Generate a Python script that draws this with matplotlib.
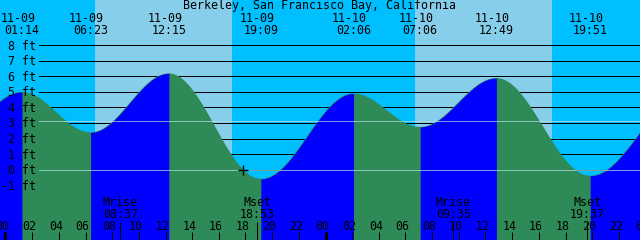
import matplotlib
matplotlib.use('Agg')
import numpy as np
import matplotlib.pyplot as plt

plt.rcParams['font.family'] = 'DejaVu Sans Mono'
plt.rcParams['font.size'] = 8.4

title = "Berkeley, San Francisco Bay, California"

# tide extremes (first and last are just outside the window)
tide_times = ["11-08 17:30", "11-09 01:14", "11-09 06:23", "11-09 12:15",
              "11-09 19:09", "11-10 02:06", "11-10 07:06", "11-10 12:49",
              "11-10 19:51", "11-11 03:00"]
tide_levels = [-0.6, 5.0, 2.4, 6.2, -0.6, 4.9, 2.75, 5.9, -0.4, 4.8]

sun_rise = ["11-09 06:43", "11-10 06:44"]
sun_set = ["11-09 16:59", "11-10 16:58"]

moon_names = ["Mrise", "Mset", "Mrise", "Mset"]
moon_times = ["11-09 08:37", "11-09 18:53", "11-10 09:35", "11-10 19:37"]

now_time = "11-09 17:50"
msl_level = 3.16
level_ticks = list(range(-1, 9))

night_col = '#00bfff'
day_col = '#87ceeb'
rise_col = '#0000ff'
fall_col = '#2e8b57'
line_col = '#b0e0e6'


def hours(s):
    md, hm = s.split()
    day = int(md.split('-')[1])
    hh, mm = hm.split(':')
    return (day - 9) * 24 + int(hh) + int(mm) / 60.0


tt = np.array([hours(s) for s in tide_times])
hh = np.array(tide_levels)


def tide_at(t):
    i = np.clip(np.searchsorted(tt, t) - 1, 0, len(tt) - 2)
    t0, t1, h0, h1 = tt[i], tt[i + 1], hh[i], hh[i + 1]
    return (h0 + h1) / 2 + (h0 - h1) / 2 * np.cos(np.pi * (t - t0) / (t1 - t0))


def row(py):
    # pixel row from top -> axes fraction
    return 1 - py / 240.0


fig = plt.figure(figsize=(6.4, 2.4), dpi=100)
ax = fig.add_axes([0, 0, 1, 1])
ax.set_xlim(-0.4125, 47.5875)
ax.set_ylim(-4.548, 10.935)
ax.axis('off')
xt = ax.get_xaxis_transform()
yt = ax.get_yaxis_transform()

# sky
ax.axvspan(-2, 50, color=night_col, lw=0, zorder=0)
for r, s in zip(sun_rise, sun_set):
    ax.axvspan(hours(r), hours(s), color=day_col, lw=0, zorder=0)

# level lines behind water
for L in level_ticks:
    ax.axhline(L, xmin=39 / 640, xmax=1, color='black', lw=0.72, zorder=1)

# water
tfull = np.linspace(tt[0], tt[-1], 2000)
ax.fill_between(tfull, [tide_at(t) for t in tfull], -5, color=fall_col, lw=0, zorder=2)
for i in range(len(tt) - 1):
    if hh[i + 1] > hh[i]:
        ts = np.linspace(tt[i], tt[i + 1], 200)
        ax.fill_between(ts, [tide_at(t) for t in ts], -5, color=rise_col, lw=0, zorder=2)

# datum and mean sea level
ax.axhline(msl_level, xmin=39 / 640, xmax=1, color=line_col, lw=0.72, alpha=0.7, zorder=3)
ax.axhline(0, xmin=39 / 640, xmax=1, color=line_col, lw=0.72, alpha=0.7, zorder=3)

# title
ax.text(0.499, row(9), title, transform=ax.transAxes, ha='center', va='baseline', zorder=6)

# extreme labels at top
for s in tide_times[1:-1]:
    t = hours(s)
    d, tm = s.split()
    ax.text(t - 0.3, row(22), d, transform=xt, ha='center', va='baseline', zorder=6)
    ax.text(t, row(33.5), tm, transform=xt, ha='center', va='baseline', zorder=6)

# level labels
for L in level_ticks:
    ax.text(36 / 640, L - 4.5 / 15.5, "%d ft" % L, transform=yt,
            ha='right', va='baseline', zorder=6)

# hour ticks
for h in range(0, 50, 2):
    ax.text(h - 0.22, row(230.5), "%02d" % (h % 24), transform=xt,
            ha='center', va='baseline', zorder=6)
ax.vlines([h for h in range(0, 48, 2) if h % 24], 0, 8 / 240, transform=xt,
          color='black', lw=0.72, zorder=6)
ax.vlines([0, 24], 0, 8.5 / 240, transform=xt, color='black', lw=2.16, zorder=6)

# moon
for name, s in zip(moon_names, moon_times):
    t = hours(s)
    ax.text(t, row(206.5), name, transform=xt, ha='center', va='baseline', zorder=6)
    ax.text(t, row(218), s.split()[1], transform=xt, ha='center', va='baseline', zorder=6)
    ax.vlines(t, 0, 18 / 240, transform=xt, color='black', lw=0.72, zorder=6)

# now marker
tn = hours(now_time)
ax.plot([tn], [tide_at(tn)], '+', color='black', ms=6.5, mew=1.0, zorder=7)

fig.savefig('out.png', dpi=100)
